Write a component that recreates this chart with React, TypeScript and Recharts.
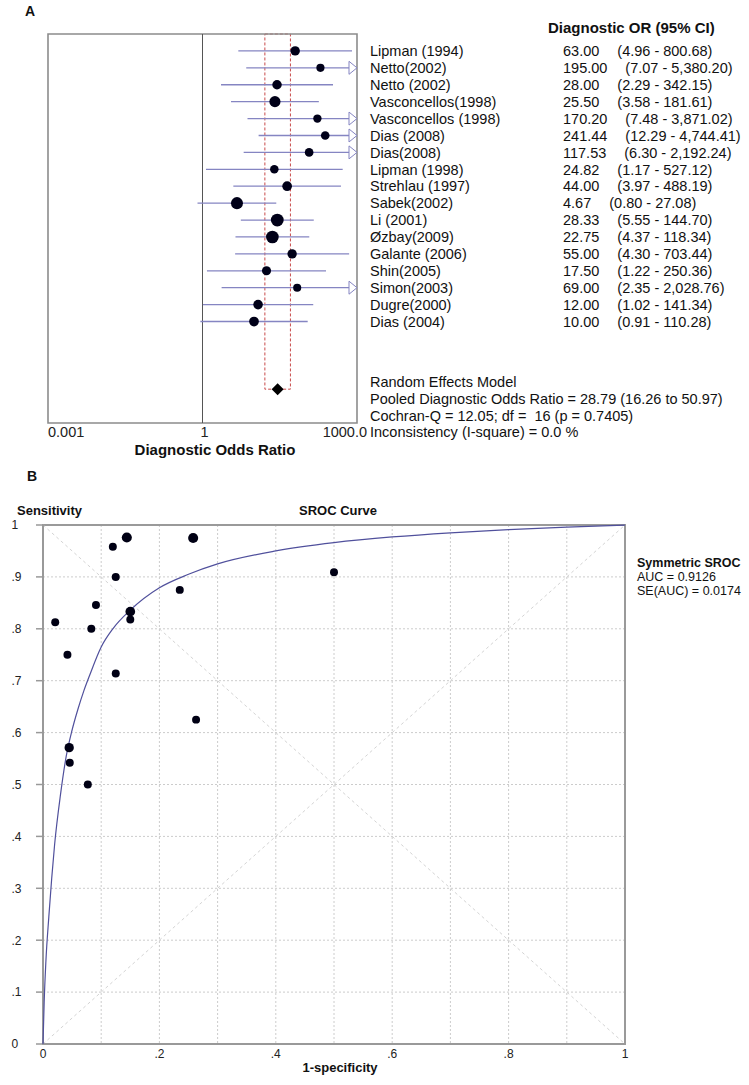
import React from "react";
import {
  ScatterChart,
  Scatter,
  XAxis,
  YAxis,
  ZAxis,
  ReferenceLine,
  ReferenceArea,
  CartesianGrid,
} from "recharts";

// ---- Panel A: forest plot of diagnostic odds ratios ----
const studies = [
  "Lipman (1994)",
  "Netto(2002)",
  "Netto (2002)",
  "Vasconcellos(1998)",
  "Vasconcellos (1998)",
  "Dias (2008)",
  "Dias(2008)",
  "Lipman (1998)",
  "Strehlau (1997)",
  "Sabek(2002)",
  "Li (2001)",
  "Øzbay(2009)",
  "Galante (2006)",
  "Shin(2005)",
  "Simon(2003)",
  "Dugre(2000)",
  "Dias (2004)",
];
const dor = [63.0, 195.0, 28.0, 25.5, 170.2, 241.44, 117.53, 24.82, 44.0, 4.67, 28.33, 22.75, 55.0, 17.5, 69.0, 12.0, 10.0];
const ciLow = [4.96, 7.07, 2.29, 3.58, 7.48, 12.29, 6.3, 1.17, 3.97, 0.8, 5.55, 4.37, 4.3, 1.22, 2.35, 1.02, 0.91];
const ciHigh = [800.68, 5380.2, 342.15, 181.61, 3871.02, 4744.41, 2192.24, 527.12, 488.19, 27.08, 144.7, 118.34, 703.44, 250.36, 2028.76, 141.34, 110.28];
// relative weights (%)
const weightPct = [5.1, 3.0, 5.2, 8.5, 3.3, 3.7, 3.8, 3.5, 5.6, 10.5, 12.3, 12.0, 5.0, 4.6, 2.9, 5.4, 5.7];

const pooledDor = 28.79;
const pooledLow = 16.26;
const pooledHigh = 50.97;
const pooledRow = 20;
const orMax = 1000;

const orTicks = [0.001, 1, 1000];
const orTickLabels = ["0.001", "1", "1000.0"];

const summaryLines = [
  "Random Effects Model",
  "Pooled Diagnostic Odds Ratio = 28.79 (16.26 to 50.97)",
  "Cochran-Q = 12.05; df =  16 (p = 0.7405)",
  "Inconsistency (I-square) = 0.0 %",
];

// ---- Panel B: SROC ----
const fpr = [0.021, 0.042, 0.083, 0.091, 0.12, 0.125, 0.144, 0.15, 0.15, 0.235, 0.258, 0.5, 0.125, 0.263, 0.045, 0.046, 0.077];
const sens = [0.8125, 0.75, 0.8, 0.846, 0.958, 0.9, 0.976, 0.833, 0.818, 0.875, 0.975, 0.909, 0.714, 0.625, 0.571, 0.542, 0.5];
const studyWeightB = [1, 1, 1, 1, 1, 1, 1.5, 1.4, 1, 1, 1.5, 1, 1, 1, 1.3, 1, 1];

const srocFpr = [0, 0.002, 0.005, 0.01, 0.015, 0.02, 0.03, 0.04, 0.05, 0.06, 0.07, 0.08, 0.1, 0.12, 0.15, 0.2, 0.25, 0.3, 0.4, 0.5, 0.6, 0.7, 0.8, 0.9, 1];
const srocSens = [0, 0.08, 0.16, 0.245, 0.32, 0.385, 0.48, 0.555, 0.605, 0.645, 0.68, 0.71, 0.765, 0.8, 0.836, 0.879, 0.905, 0.925, 0.95, 0.966, 0.977, 0.985, 0.991, 0.996, 1];

const unitTicks = [0, 0.1, 0.2, 0.3, 0.4, 0.5, 0.6, 0.7, 0.8, 0.9, 1];
const unitLabels = ["0", ".1", ".2", ".3", ".4", ".5", ".6", ".7", ".8", ".9", "1"];

const FONT = '"Liberation Sans", Arial, Helvetica, sans-serif';
const CI_COLOR = "#8585c2";
const A_SIZE = 14.5;

const fmt = (v: number) =>
  v.toLocaleString("en-US", { minimumFractionDigits: 2, maximumFractionDigits: 2 });

const forestRows = studies.map((name, i) => ({ name, x: dor[i], y: i, w: weightPct[i] }));
const labelRows = studies.map((name, i) => ({ name, x: 1, y: i, idx: i }));
const clippedRows = studies
  .map((name, i) => ({ name, x: orMax, y: i, hi: ciHigh[i] }))
  .filter((r) => r.hi > orMax);
const pooledPoint = [{ x: pooledDor, y: pooledRow }];

const srocPoints = fpr.map((x, i) => ({ x, y: sens[i], w: studyWeightB[i] }));
const srocCurve = srocFpr.map((x, i) => ({ x, y: srocSens[i] }));

const OrTick = (props: any) => {
  const { x, y, payload } = props;
  const i = orTicks.indexOf(payload.value);
  const last = i === orTicks.length - 1;
  const anchor = i === 0 ? "start" : last ? "end" : "middle";
  const dx = i === 0 ? 0 : last ? 10 : 2;
  return (
    <text x={x + dx} y={y} dy="0.71em" textAnchor={anchor} fontSize={A_SIZE} fill="#222" fontFamily={FONT}>
      {orTickLabels[i]}
    </text>
  );
};

// study name + DOR (95% CI) text, placed on the row's y from the scale
const RowLabel = (props: any) => {
  const { cy } = props;
  const i = (props.payload ?? props).idx as number;
  if (i === undefined) return <g />;
  return (
    <g fontFamily={FONT} fontSize={A_SIZE} fill="#111">
      <text x={370} y={cy} dy="0.36em">
        {studies[i]}
      </text>
      <text x={563} y={cy} dy="0.36em">
        <tspan>{fmt(dor[i])}</tspan>
        <tspan dx={18}>{`(${fmt(ciLow[i])} - ${fmt(ciHigh[i])})`}</tspan>
      </text>
    </g>
  );
};

const ArrowHead = (props: any) => {
  const { cx, cy } = props;
  return (
    <path
      d={`M${cx - 8},${cy - 6.5} L${cx},${cy} L${cx - 8},${cy + 6.5} Z`}
      fill="#fff"
      stroke={CI_COLOR}
      strokeWidth={1}
    />
  );
};

const Diamond = (props: any) => {
  const { cx, cy } = props;
  const r = 6;
  return <path d={`M${cx},${cy - r} L${cx + r},${cy} L${cx},${cy + r} L${cx - r},${cy} Z`} fill="#000" />;
};

const NoShape = () => <g />;

const UnitXTick = (props: any) => {
  const { x, y, payload } = props;
  const i = unitTicks.indexOf(payload.value);
  if (i % 2 !== 0) return <g />;
  return (
    <text x={x} y={y} dy="0.71em" textAnchor="middle" fontSize={12} fill="#222" fontFamily={FONT}>
      {unitLabels[i]}
    </text>
  );
};

const UnitYTick = (props: any) => {
  const { y, payload } = props;
  const i = unitTicks.indexOf(payload.value);
  return (
    <text x={11.5} y={y} dy="0.36em" textAnchor="start" fontSize={12} fill="#222" fontFamily={FONT}>
      {unitLabels[i]}
    </text>
  );
};

const Txt = ({
  left,
  top,
  children,
  bold,
  size = 14,
  center,
}: {
  left: number;
  top: number;
  children: React.ReactNode;
  bold?: boolean;
  size?: number;
  center?: boolean;
}) => (
  <div
    style={{
      position: "absolute",
      left,
      top,
      transform: center ? "translate(-50%, -50%)" : "translateY(-50%)",
      fontSize: size,
      fontWeight: bold ? 700 : 400,
      lineHeight: 1,
      whiteSpace: "pre",
      color: "#111",
    }}
  >
    {children}
  </div>
);

export default function App() {
  return (
    <div
      style={{
        position: "absolute",
        left: 0,
        top: 0,
        width: 749,
        height: 1085,
        background: "#fff",
        fontFamily: FONT,
        overflow: "hidden",
      }}
    >
      {/* Panel A */}
      <div style={{ position: "absolute", left: 0, top: 0 }}>
        <ScatterChart width={749} height={470} margin={{ top: 34, right: 392, bottom: 17, left: 48 }}>
          <XAxis
            type="number"
            dataKey="x"
            scale="log"
            domain={[0.001, 1000]}
            ticks={orTicks}
            interval={0}
            axisLine={false}
            tickLine={false}
            tickSize={0}
            tickMargin={4}
            height={30}
            tick={<OrTick />}
          />
          <YAxis type="number" dataKey="y" domain={[-1, 22]} reversed hide />
          <ZAxis type="number" dataKey="w" domain={[0, 12.5]} range={[28, 130]} />
          <ReferenceArea
            x1={pooledLow}
            x2={pooledHigh}
            y1={-1}
            y2={pooledRow}
            fill="none"
            stroke="#c84a4a"
            strokeDasharray="3 2"
            strokeWidth={1}
            ifOverflow="visible"
          />
          <ReferenceLine x={1} stroke="#555" strokeWidth={1} />
          {studies.map((s, i) => (
            <ReferenceLine
              key={s + i}
              segment={[
                { x: ciLow[i], y: i },
                { x: Math.min(ciHigh[i], orMax), y: i },
              ]}
              stroke={CI_COLOR}
              strokeWidth={1.3}
              ifOverflow="visible"
            />
          ))}
          <Scatter data={forestRows} fill="#000018" isAnimationActive={false} />
          <Scatter data={clippedRows} shape={<ArrowHead />} isAnimationActive={false} />
          <Scatter data={pooledPoint} shape={<Diamond />} isAnimationActive={false} />
          <Scatter data={labelRows} shape={<RowLabel />} isAnimationActive={false} />
          <ReferenceArea
            x1={0.001}
            x2={1000}
            y1={-1}
            y2={22}
            fill="none"
            stroke="#8c8c8c"
            strokeWidth={1.6}
            ifOverflow="visible"
          />
        </ScatterChart>
      </div>
      <Txt left={25} top={11} bold size={14}>A</Txt>
      <Txt left={548} top={27} bold size={15}>Diagnostic OR (95% CI)</Txt>
      {summaryLines.map((t, i) => (
        <Txt key={t} left={370} top={382 + i * 16.8} size={A_SIZE}>
          {t}
        </Txt>
      ))}
      <Txt left={215} top={449} bold center size={15}>Diagnostic Odds Ratio</Txt>

      {/* Panel B */}
      <div style={{ position: "absolute", left: 0, top: 470 }}>
        <ScatterChart width={749} height={615} margin={{ top: 55, right: 124, bottom: 21, left: 13 }}>
          <CartesianGrid stroke="#cccccc" strokeDasharray="2 2" strokeWidth={1} />
          <XAxis
            type="number"
            dataKey="x"
            domain={[0, 1]}
            ticks={unitTicks}
            interval={0}
            axisLine={{ stroke: "#999", strokeWidth: 2 }}
            tickLine={false}
            tickSize={0}
            tickMargin={5}
            height={20}
            tick={<UnitXTick />}
          />
          <YAxis
            type="number"
            dataKey="y"
            domain={[0, 1]}
            ticks={unitTicks}
            interval={0}
            width={30}
            axisLine={{ stroke: "#999", strokeWidth: 2 }}
            tickLine={{ stroke: "#999", strokeWidth: 1.5 }}
            tickSize={7}
            tick={<UnitYTick />}
          />
          <ZAxis type="number" dataKey="w" domain={[1, 1.5]} range={[50, 80]} />
          <ReferenceLine
            segment={[
              { x: 0, y: 0 },
              { x: 1, y: 1 },
            ]}
            stroke="#d4d4d4"
            strokeDasharray="3 3"
          />
          <ReferenceLine
            segment={[
              { x: 0, y: 1 },
              { x: 1, y: 0 },
            ]}
            stroke="#d4d4d4"
            strokeDasharray="3 3"
          />
          <ReferenceArea x1={0} x2={1} y1={0} y2={1} fill="none" stroke="#9a9a9a" strokeWidth={2} ifOverflow="visible" />
          <Scatter
            data={srocCurve}
            line={{ stroke: "#50509c", strokeWidth: 1.2 }}
            lineJointType="monotoneX"
            shape={<NoShape />}
            isAnimationActive={false}
          />
          <Scatter data={srocPoints} fill="#000014" isAnimationActive={false} />
        </ScatterChart>
      </div>
      <Txt left={27} top={476} bold size={14}>B</Txt>
      <Txt left={17} top={510} bold size={13}>Sensitivity</Txt>
      <Txt left={338} top={510} bold center size={13}>SROC Curve</Txt>
      <Txt left={340} top={1067} bold center size={13}>1-specificity</Txt>
      <Txt left={637} top={563} bold size={12.5}>Symmetric SROC</Txt>
      <Txt left={637} top={577} size={12.5}>AUC = 0.9126</Txt>
      <Txt left={637} top={591} size={12.5}>SE(AUC) = 0.0174</Txt>
    </div>
  );
}
